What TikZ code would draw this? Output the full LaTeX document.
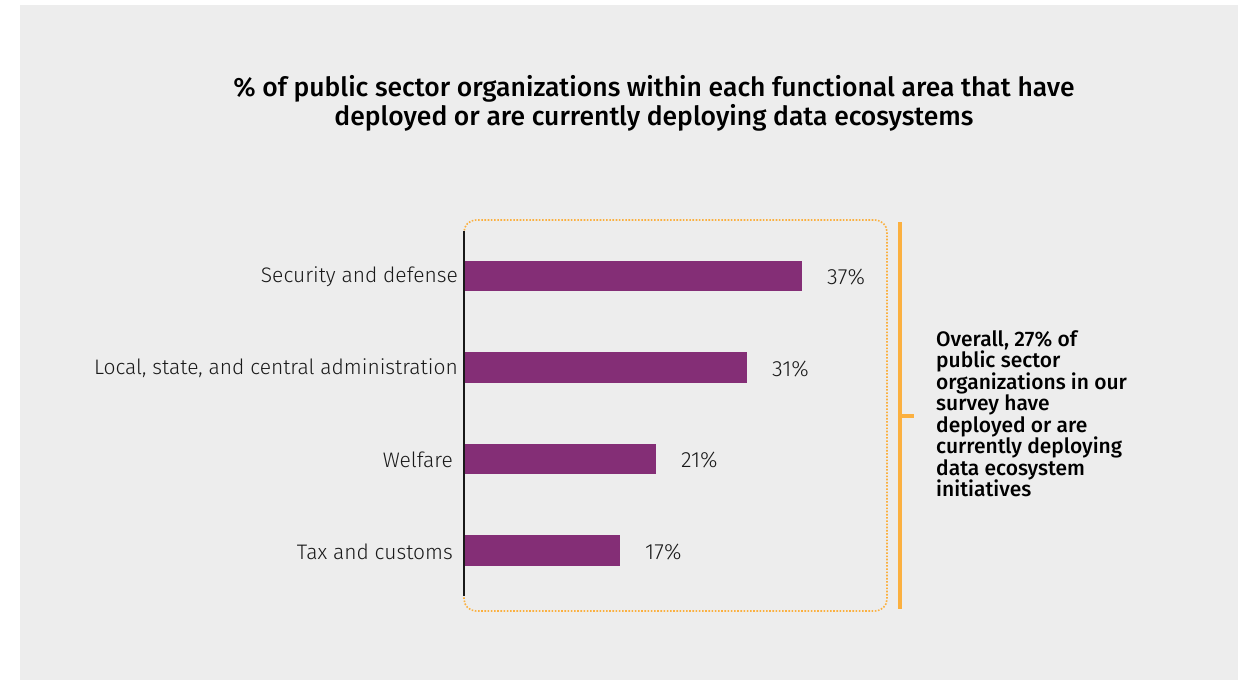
\documentclass[tikz,border=0pt]{standalone}
\usepackage{fontspec}
\setmainfont{Fira Sans}
\newfontfamily\lightfont{Fira Sans Light}
\newfontfamily\medfont{Fira Sans Medium}
\definecolor{bg}{HTML}{EDEDED}
\definecolor{barpurple}{HTML}{842E76}
\definecolor{accent}{HTML}{FBB040}
\begin{document}
\begin{tikzpicture}[x=1pt,y=-1pt,
  lbl/.style={font=\lightfont\fontsize{21}{24}\selectfont, text=black!90, inner sep=0pt},
  pct/.style={font=\lightfont\fontsize{22}{24}\selectfont, text=black!90, inner sep=0pt, anchor=west},
  barfill/.style={fill=barpurple},
]
\useasboundingbox (0,0) rectangle (1248,680);
\fill[bg] (20,5) rectangle (1238,680);
% title
\node[font=\medfont\fontsize{26.5}{29}\selectfont, align=center, inner sep=0pt] (title) at (654,103)
  {\% of public sector organizations within each functional area that have\\deployed or are currently deploying data ecosystems};
% dotted frame
\draw[accent, line width=1.6pt, dash pattern=on 1.6pt off 1.6pt, rounded corners=12pt]
  (464,240) -- (464,220) -- (887,220) -- (887,611) -- (464,611) -- (464,590);
% bars
\fill[barfill] (464,261) rectangle (802,291);
\fill[barfill] (464,352) rectangle (747,383);
\fill[barfill] (464,444) rectangle (656,474);
\fill[barfill] (464,535) rectangle (620,566);
% axis
\draw[black!90, line width=2.4pt] (464,231) -- (464,596);
% labels
\node[lbl, anchor=east] (l1) at (458,277) {Security and defense};
\node[lbl, anchor=east] (l2) at (458,368.5) {Local, state, and central administration};
\node[lbl, anchor=east] (l3) at (453,460) {Welfare};
\node[lbl, anchor=east] (l4) at (453,551.5) {Tax and customs};
\node[pct] (p1) at (827,277.5) {37\%};
\node[pct] (p2) at (772,369) {31\%};
\node[pct] (p3) at (681,460.5) {21\%};
\node[pct] (p4) at (645,552) {17\%};
% bracket
\draw[accent, line width=4.5pt] (900,222) -- (900,609);
\coordinate (bm) at (900,416);
\coordinate (bt) at (914,416);
\draw[accent, line width=4pt] (bm) -- (bt);
\node[font=\medfont\fontsize{21}{21.5}\selectfont, align=left, anchor=north west, inner sep=0pt] (note) at (936,330)
  {Overall, 27\% of\\public sector\\organizations in our\\survey have\\deployed or are\\currently deploying\\data ecosystem\\initiatives};
\end{tikzpicture}
\end{document}
